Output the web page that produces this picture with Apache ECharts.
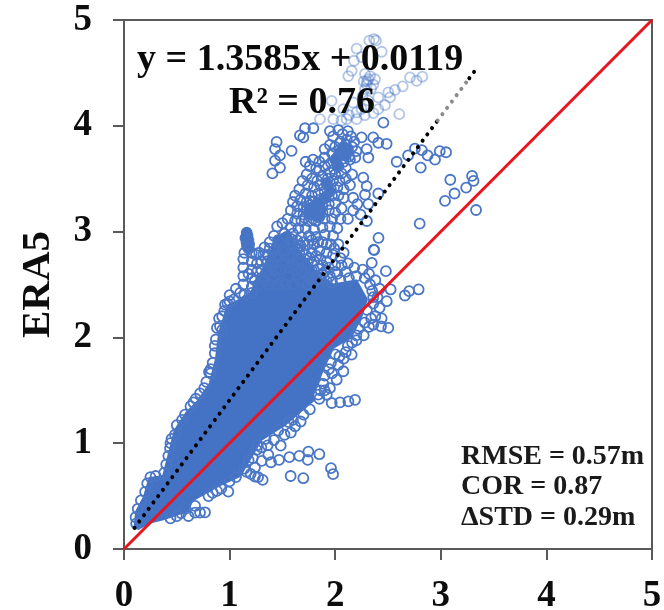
<!DOCTYPE html>
<html><head><meta charset="utf-8">
<style>html,body{margin:0;padding:0;background:#fff}#c{width:664px;height:610px}</style>
<script src="https://cdn.jsdelivr.net/npm/echarts@6/dist/echarts.min.js"></script>
</head><body><div id="c"></div>
<script>
const yAxisTitle="ERA5";
const equationText="y = 1.3585x + 0.0119";
const r2Text="R² = 0.76";
const statsText=["RMSE = 0.57m","COR = 0.87","ΔSTD = 0.29m"];
const identityLine=[[0,0],[5,5]];
const fitLineBlackLow=[[0.1,0.2],[2.97,4.05]];
const fitLineGrey=[[2.97,4.05],[3.27,4.45]];
const fitLineBlackHigh=[[3.27,4.45],[3.33,4.53]];
// outline of the saturated part of the cloud
const saturatedCore=[[.1,.21],[.115,.353],[.19,.495],[.24,.67],[.37,.69],[.43,.92],[.48,1.12],[.59,1.29],[.7,1.4],[.81,1.56],[.87,1.79],[.9,2.04],[.98,2.3],[1.1,2.36],[1.2,2.42],[1.3,2.62],[1.38,2.78],[1.43,2.95],[1.56,3.0],[1.64,2.84],[1.76,2.7],[1.86,2.56],[1.98,2.5],[2.2,2.54],[2.3,2.36],[2.25,2.2],[2.15,2.0],[1.98,1.9],[1.9,1.73],[1.79,1.46],[1.8,1.41],[1.65,1.28],[1.52,1.17],[1.3,1.03],[1.17,.81],[1.1,.69],[.9,.6],[.65,.46],[.6,.36],[.373,.28],[.246,.25],[.136,.19]];
// fully saturated knots: top of the tall column and the upper lobe
const denseKnots=[[1.162,2.99],[1.17,2.96],[1.15,2.94],[1.178,2.92],[1.16,2.9],[1.185,2.88],[1.165,2.86],[1.18,2.84],
[1.78,3.22],[1.82,3.25],[1.85,3.2],[1.8,3.17],[1.75,3.18],[1.84,3.14],[1.9,3.32],[1.86,3.28],[1.92,3.45],[1.95,3.38],
[2.05,3.75],[2.08,3.8],[2.12,3.78],[2.1,3.72],[2.0,3.68],[2.03,3.62]];
const solidPoints=[
[1.714,3.977],[1.793,3.977],[1.666,3.91],[1.698,3.89],[1.445,3.848],[1.43,3.78],[1.477,3.72],[1.43,3.67],[1.477,3.605],[1.405,3.55],[1.587,3.763],
[2.456,4.03],[2.25,3.89],[2.36,3.89],[2.408,3.84],[2.487,3.83],[2.298,3.78],[2.314,3.7],[2.582,3.66],[2.755,3.785],[2.69,3.72],[2.82,3.77],[2.875,3.72],[2.945,3.68],[2.99,3.76],[3.05,3.75],[2.81,3.605],
[2.266,3.51],[2.298,3.43],[2.282,3.35],[2.408,3.36],[2.314,3.26],[2.21,3.26],[2.17,3.32],[3.04,3.29],[2.80,3.075],
[3.09,3.49],[3.13,3.36],[3.24,3.416],[3.296,3.526],[3.31,3.48],[3.334,3.204],[2.41,2.94],[2.365,2.83],
// upper lobe
[1.95,3.95],[1.98,3.9],[2.03,3.96],[2.07,3.92],[2.12,3.95],[2.15,3.9],[2.18,3.85],[2.05,3.85],[2.1,3.82],[2.0,3.8],[1.95,3.82],[1.9,3.78],[2.16,3.8],[2.2,3.76],[2.12,3.76],[2.06,3.74],[2.02,3.7],[1.97,3.74],[1.9,3.7],[1.85,3.66],[1.82,3.6],[1.76,3.62],[1.72,3.66],[1.79,3.68],[1.85,3.58],[1.9,3.62],[1.96,3.65],[2.02,3.62],[2.08,3.66],[2.14,3.68],[2.19,3.7],[2.1,3.6],[2.06,3.55],[2.0,3.54],[1.95,3.56],[1.88,3.52],[1.83,3.48],[1.78,3.5],[1.73,3.54],[1.69,3.48],[1.74,3.44],[1.8,3.42],[1.86,3.44],[1.92,3.46],[1.98,3.48],[2.04,3.48],[2.1,3.5],[2.16,3.54],[2.14,3.44],[2.08,3.4],[2.02,3.42],[1.96,3.4],[1.9,3.38],[1.84,3.36],[1.78,3.34],[1.72,3.36],[1.66,3.4],[1.62,3.34],[1.67,3.3],[1.73,3.28],[1.79,3.28],[1.85,3.3],[1.91,3.32],[1.97,3.34],[2.03,3.34],[2.08,3.32],[2.0,3.27],[1.94,3.26],[1.88,3.24],[1.82,3.22],[1.76,3.22],[1.7,3.23],[1.64,3.24],[1.6,3.28],[1.58,3.2],[1.64,3.17],[1.7,3.16],[1.76,3.16],[1.82,3.16],[1.88,3.18],[1.94,3.2],[2.0,3.18],[2.06,3.22],[2.17,3.2],[2.24,3.16],[2.3,3.1],[2.12,3.12],[2.05,3.12],[1.97,3.12],[1.9,3.12],[1.82,3.1],[1.75,3.1],[1.68,3.1],[1.62,3.1],[1.55,3.12],[1.5,3.08],[1.45,3.05],[1.58,3.04],[1.65,3.03],[1.72,3.03],[1.8,3.02],[1.88,3.04],[1.95,3.05],[2.02,3.03],[1.76,3.25],[1.8,3.2],[1.84,3.27],[1.78,3.16],[1.86,3.2],
[2.07,3.78],[2.09,3.72],[2.13,3.71],[2.11,3.87],[2.04,3.77],[1.99,3.59],[1.93,3.5],[1.8,3.24],[1.83,3.19],[1.76,3.29],[1.73,3.2],[1.79,3.12],[1.85,3.14],[1.71,3.13],
// mid field 2.4 to 3.05
[1.1,2.42],[1.13,2.5],[1.13,2.58],[1.13,2.66],[1.13,2.74],[1.14,2.8],[1.21,2.8],[1.21,2.72],[1.21,2.64],[1.21,2.56],[1.21,2.48],[1.21,2.42],[1.28,2.8],[1.33,2.85],[1.38,2.9],[1.42,2.96],[1.3,2.72],[1.36,2.78],[1.42,2.82],[1.48,2.88],[1.54,2.95],[1.6,2.98],[1.68,2.95],[1.75,2.96],[1.82,2.95],[1.9,2.97],[1.98,2.96],[1.35,2.62],[1.41,2.7],[1.47,2.76],[1.53,2.82],[1.6,2.88],[1.67,2.87],[1.74,2.88],[1.8,2.88],[1.88,2.9],[1.96,2.88],[2.03,2.88],[1.42,2.58],[1.48,2.64],[1.54,2.7],[1.6,2.76],[1.66,2.8],[1.72,2.78],[1.78,2.8],[1.85,2.82],[1.92,2.8],[1.98,2.78],[2.05,2.75],[1.5,2.52],[1.56,2.58],[1.62,2.64],[1.68,2.7],[1.74,2.7],[1.8,2.72],[1.86,2.74],[1.92,2.72],[2.0,2.68],[1.6,2.5],[1.66,2.55],[1.72,2.6],[1.78,2.63],[1.84,2.65],[1.9,2.62],[1.74,2.5],[1.8,2.52],[1.86,2.55],[1.92,2.53],
[1.26,2.62],[1.3,2.56],[1.37,2.5],[1.24,2.54],[1.18,2.6],[1.06,2.46],[1.0,2.4],[1.95,2.58],[2.02,2.6],[2.1,2.62],[2.18,2.66],[2.26,2.64],[2.32,2.6],[2.38,2.54],[2.42,2.46],[2.48,2.626],[2.525,2.453],[2.66,2.396],[2.70,2.437],[2.79,2.453],[2.488,2.342],[2.346,2.705],[2.37,2.825],[2.503,2.09],[2.434,2.105],[2.38,2.2],[2.42,2.28],[2.36,2.32],[2.44,2.18],[2.36,2.12],[2.4,2.38],
[1.27,2.5],[1.33,2.54],[1.4,2.54],[1.46,2.5],[1.53,2.5],[1.3,2.64],[1.38,2.68],[1.44,2.64],[1.5,2.7],[1.57,2.66],[1.64,2.6],[1.7,2.52],[1.76,2.56],[1.68,2.63],[1.6,2.7],[1.66,2.74],[1.56,2.76],[1.5,2.82],[1.57,2.88],[1.64,2.84],[1.7,2.83],[1.76,2.75],[1.82,2.77],[1.88,2.68],[1.94,2.66],[2.0,2.62],[2.06,2.68],[2.12,2.7],[1.44,2.76],[1.38,2.84],[1.46,2.92],[1.52,2.98],[1.58,2.93],[1.64,2.92],[1.7,2.9],[1.78,2.92],[1.84,2.9],[1.92,2.88],[1.99,2.84],[2.08,2.8],[1.36,2.72],[1.32,2.78],[1.26,2.7],[1.25,2.78],[1.82,2.58],[1.88,2.6],[1.97,2.52],[2.05,2.54],[2.13,2.56],[2.2,2.58],[2.28,2.56],[2.33,2.5],[2.35,2.44],[2.36,2.38],
// right flank below the identity line
[2.32,2.1],[2.27,2.02],[2.22,2.08],[2.2,1.973],[2.156,1.837],[2.12,1.92],[2.08,1.8],[2.077,1.68],[2.014,1.6],[2.03,1.74],[1.97,1.66],[2.0,1.84],[1.92,1.458],[1.967,1.38],[2.046,1.386],[2.125,1.395],[2.188,1.41],[1.888,1.56],[1.9,1.5],[1.95,1.52],[1.85,1.42],[2.3,2.26],[2.34,2.18],[2.28,2.14],[2.2,2.02],[2.16,1.95],[2.1,1.86],[2.04,1.82],[1.96,1.76],[1.94,1.7],[1.9,1.64],[1.86,1.5],[1.84,1.46],
// lower plume
[1.673,1.205],[1.62,1.16],[1.58,1.1],[1.52,1.08],[1.6,1.22],[1.7,1.27],[1.76,1.32],[1.484,.978],[1.42,1.03],[1.36,.98],[1.257,.937],[1.3,.96],[1.367,.89],[1.304,.833],[1.392,.82],[1.468,.842],[1.566,.868],[1.66,.88],[1.74,.842],[1.746,.921],[1.85,.896],[1.578,.69],[1.698,.669],[1.96,.764],[1.98,.707],[1.313,.653],[1.24,.685],[1.27,.68],[1.2,.71],[1.16,.73],[1.24,.77],[.988,.543],[.92,.57],[.88,.55],[.84,.53],[.8,.5],[.767,.347],[.72,.344],[.673,.344],[.61,.312],[.673,.407],[1.22,.86],[1.18,.84],[1.14,.76],[1.06,.68],[1.0,.64],[1.26,.98],[1.34,1.04],[1.46,1.12],[1.56,1.2],[.58,.38],[.54,.34],[.5,.31],[.44,.29],
// upper-left fringe
[.657,1.385],[.63,1.35],[.578,1.27],[.55,1.22],[.5,1.17],[.436,.953],[.44,1.0],[.45,1.04],[.483,1.08],[.805,1.673],[.82,1.66],[.909,2.105],[.88,2.09],[.93,2.07],[.957,2.31],[.98,2.32],[.95,2.25],[.86,1.85],[.84,1.76],[.76,1.52],[.72,1.47],[.9,2.18],[.93,2.2],[.87,1.98],[.86,1.92],[.82,1.7],[.78,1.58],[.68,1.42],[.42,.88],[.4,.8],[.38,.72],[.3,.69],[.25,.68],[.22,.62],[.2,.54],[.16,.46],[.13,.38],[.11,.3],[.115,.24],[1.04,2.36],[1.14,2.4],[1.0,2.34]
];
const fadedPoints=[[2.367,4.82],[2.323,4.805],[2.386,4.805],[2.203,4.73],[2.44,4.70],[2.178,4.615],[2.25,4.65],[2.156,4.52],[2.124,4.47],[2.282,4.49],[2.377,4.44],[2.314,4.44],[2.298,4.39],[2.282,4.347],[2.36,4.39],[2.708,4.457],[2.771,4.426],[2.825,4.464],[2.639,4.372],[2.566,4.34],[2.503,4.315],[2.519,4.268],[2.408,4.268],[2.471,4.195],[2.408,4.157],[2.361,4.12],[2.607,4.11],[2.25,4.157],[2.203,4.126],[2.077,4.157],[1.966,4.236],[1.856,4.063],[1.982,4.063],[2.108,4.063],[2.203,4.063],[2.33,4.47],[2.3,4.42],[2.27,4.42],[2.34,4.35],[2.26,4.28],[2.31,4.24],[2.17,4.22],[2.13,4.1],[2.28,4.1],[2.06,4.05]];

const serif='"Liberation Serif","Times New Roman",serif';
function dotted(name,data,color){return {type:'line',name,data,showSymbol:false,silent:true,z:6,
  lineStyle:{color,width:4,cap:'round',type:[0.01,7.9]}};}
function cloud(name,data,opacity,filled,z){return {type:'scatter',name,data,symbolSize:10,silent:true,z,
  itemStyle:{color:filled?'#4472c4':'rgba(0,0,0,0)',borderColor:'#4a76c6',borderWidth:1.8,opacity}};}
const axis=(extra)=>Object.assign({type:'value',min:0,max:5,interval:1,splitLine:{show:false},
  axisLine:{show:true,onZero:false,lineStyle:{color:'#5a5a5a',width:2}},
  axisTick:{show:true,length:11,lineStyle:{color:'#5a5a5a',width:2}}},extra);
const label=(margin)=>({fontFamily:serif,fontWeight:'bold',fontSize:37,color:'#0d0d0d',margin,
  formatter:v=>String(v)});
const chart=echarts.init(document.getElementById('c'),null,{renderer:'canvas'});
const text=(t,x,y,size,color)=>({type:'text',left:x,top:y,z:100,style:{text:t,fill:color||'#0a0a0a',font:`bold ${size}px ${serif}`}});
chart.setOption({
  animation:false,backgroundColor:'#fff',
  grid:{left:124,top:20,width:528,height:529,show:true,borderColor:'#5a5a5a',borderWidth:2,backgroundColor:'transparent',outerBoundsMode:'none'},
  xAxis:axis({axisLabel:label(29)}),
  yAxis:axis({axisLabel:label(32),name:yAxisTitle,nameLocation:'middle',nameGap:65,nameRotate:90,nameMoveOverlap:false,
    nameTextStyle:{fontFamily:serif,fontWeight:'bold',fontSize:41,color:'#0d0d0d'}}),
  series:[
    {type:'custom',name:'core',silent:true,z:2,data:[0],coordinateSystem:'cartesian2d',clip:false,
     renderItem:(p,api)=>({type:'polygon',shape:{points:saturatedCore.map(q=>api.coord(q))},
       style:{fill:'#4472c4',stroke:'#4472c4',lineWidth:2}})},
    cloud('dense knots',denseKnots,1,true,3),
    cloud('points',solidPoints,1,false,3),
    cloud('faded points',fadedPoints,0.42,false,3),
    {type:'line',name:'1:1',data:identityLine,showSymbol:false,silent:true,z:5,lineStyle:{color:'#e8141e',width:3}},
    dotted('fit',fitLineBlackLow,'#000'),
    dotted('fit grey',fitLineGrey,'#8a8a8a'),
    dotted('fit end',fitLineBlackHigh,'#000')
  ],
  graphic:{elements:[
    text(equationText,137,41,38),
    text(r2Text,229,84,38),
    text(statsText[0],461,443,28,'#1a1a1a'),
    text(statsText[1],461,473,28,'#1a1a1a'),
    text(statsText[2],461,504,28,'#1a1a1a')
  ]}
});
</script></body></html>
